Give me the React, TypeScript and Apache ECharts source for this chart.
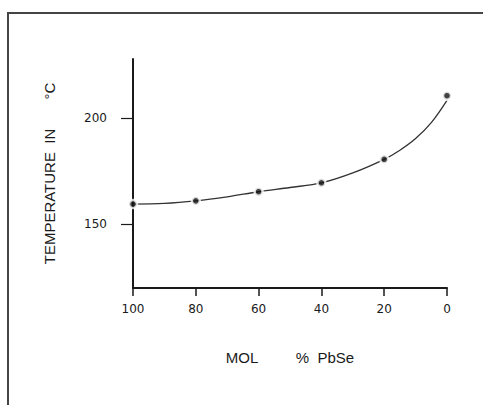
import React, { useEffect, useRef } from "react";
import * as echarts from "echarts";

// Measured points
const molPbSe = [100, 80, 60, 40, 20, 0];
const temperature = [159.6, 161.1, 165.4, 169.6, 180.7, 210.7];

// Drawn curve
const curveX = [100, 90, 80, 70, 60, 50, 40, 30, 20, 15, 10, 5, 0];
const curveY = [159.6, 159.9, 161.1, 163.0, 165.4, 167.4, 169.6, 174.3, 180.7, 185.0, 190.5, 198.0, 208.5];

const yTickValues = [150, 200];
const xTickStep = 20;

const NB = "\u00A0";
const yName = "TEMPERATURE" + NB + NB + "IN" + NB.repeat(7) + "°C";
const xName = "MOL" + NB.repeat(9) + "%" + NB + NB + "PbSe";

export default function App() {
  const ref = useRef<HTMLDivElement>(null);
  useEffect(() => {
    if (!ref.current) return;
    const chart = echarts.init(ref.current, null, { renderer: "svg" });
    const ink = "#1a1a1a";
    const font = "'Liberation Sans', Arial, sans-serif";
    chart.setOption({
      animation: false,
      backgroundColor: "#fff",
      grid: { left: 133, right: 38, top: 59, bottom: 117, containLabel: false },
      xAxis: {
        type: "value",
        inverse: true,
        min: 0,
        max: 100,
        interval: xTickStep,
        name: xName,
        nameLocation: "middle",
        nameGap: 62,
        nameTextStyle: { color: ink, fontSize: 15, fontFamily: font },
        axisLine: { show: true, onZero: false, lineStyle: { color: ink, width: 2 } },
        axisTick: { show: true, length: 8, lineStyle: { color: ink, width: 1.5 } },
        axisLabel: { color: ink, fontSize: 12, fontFamily: "'DejaVu Sans', sans-serif", margin: 15 },
        splitLine: { show: false },
      },
      yAxis: {
        type: "value",
        position: "left",
        min: 120,
        max: 228,
        name: yName,
        nameLocation: "middle",
        nameRotate: 90,
        nameGap: 76,
        nameTextStyle: { color: ink, fontSize: 15, fontFamily: font },
        axisLine: { show: true, onZero: false, lineStyle: { color: ink, width: 2 } },
        axisTick: { show: true, length: 12, customValues: yTickValues, lineStyle: { color: ink, width: 1.2 } },
        axisLabel: { color: ink, fontSize: 12, fontFamily: "'DejaVu Sans', sans-serif", margin: 26, customValues: yTickValues },
        splitLine: { show: false },
      },
      graphic: [
        {
          type: "polyline",
          shape: { points: [[8, 405], [8, 13], [483, 13]] },
          style: { stroke: "#444", lineWidth: 2, fill: "none" },
          silent: true,
        },
      ],
      series: [
        {
          type: "line",
          data: curveX.map((x, i) => [x, curveY[i]]),
          smooth: 0.35,
          showSymbol: false,
          symbol: "none",
          lineStyle: { color: "#333", width: 1.3 },
          z: 2,
        },
        {
          type: "scatter",
          data: molPbSe.map((x, i) => [x, temperature[i]]),
          symbol: "circle",
          symbolSize: 8,
          itemStyle: { color: "#111", borderColor: "#fff", borderWidth: 2.5 },
          z: 3,
        },
      ],
    });
    return () => chart.dispose();
  }, []);
  return <div ref={ref} style={{ width: 485, height: 405, position: "absolute", left: 0, top: 0 }} />;
}
